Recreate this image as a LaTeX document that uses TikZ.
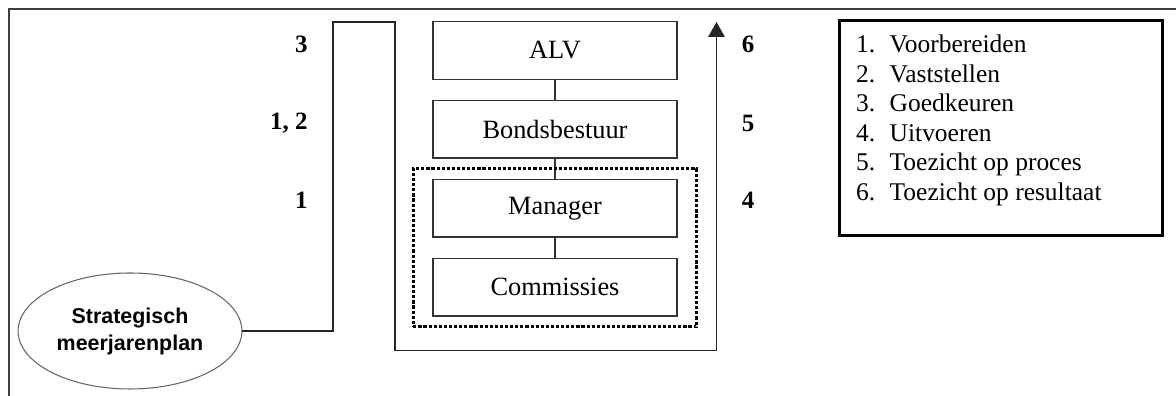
\documentclass[tikz,border=0pt]{standalone}
\usepackage{fontspec}
\setmainfont{Liberation Serif}
\setsansfont{Liberation Sans}
\usepackage{tikz}
\usetikzlibrary{arrows.meta, positioning, shapes.geometric, fit}

\begin{document}
\begin{tikzpicture}[
  box/.style={draw=black!80, thick, minimum width=4.88cm, minimum height=1.15cm, font=\fontsize{15}{18}\selectfont},
  num/.style={inner sep=0pt, font=\fontsize{14.2}{17}\selectfont\bfseries},
  plan/.style={ellipse, draw=black!60, semithick, minimum width=4.04cm, minimum height=2.32cm, align=center, font=\sffamily\bfseries\fontsize{12.2}{15.4}\selectfont},
  link/.style={thick, black!80},
  arrow/.style={-{Triangle[width=0.33cm, length=0.3cm]}, thick, black!85},
  group/.style={draw, line width=1.8pt, dash pattern=on 1.8pt off 1.1pt, inner xsep=0.38cm, inner ysep=0.2cm},
  legend/.style={draw, line width=1.6pt, minimum width=6.47cm, minimum height=4.3cm},
  legendtext/.style={align=left, inner sep=0pt, font=\fontsize{14.5}{16.8}\selectfont}
]

\useasboundingbox (0,0) rectangle (23.52,7.92);

% Frame
\draw[thick, black!75] (0.18,0) -- (0.18,7.74) -- (23.52,7.74);

% Organisation
\node[box] (alv) at (11.1, 6.91) {ALV};
\node[box, below=0.4cm of alv] (bestuur) {Bondsbestuur};
\node[box, below=0.4cm of bestuur] (manager) {Manager};
\node[box, below=0.4cm of manager] (commissies) {Commissies};

\draw[link] (alv.south) -- (bestuur.north);
\draw[link] (bestuur.south) -- (manager.north);
\draw[link] (manager.south) -- (commissies.north);

% Executive part
\node[group, fit=(manager) (commissies)] (uitvoering) {};

% Plan and its route
\node[plan] (plan) at (2.6, 1.3) {Strategisch\\meerjarenplan};

\coordinate (turn1) at (6.66, 7.48);
\coordinate (turn2) at (7.9, 0.906);
\coordinate (top) at (14.33, 7.48);
\draw[arrow] (plan.east) -| (turn1) -| (turn2) -| (top);

% Step numbers
\node[num, anchor=east] (n3) at (6.16, 7.04) {3};
\node[num, anchor=east] (n12) at (6.16, 5.46) {1, 2};
\node[num, anchor=east] (n1) at (6.16, 3.92) {1};
\node[num] (n6) at (14.96, 7.04) {6};
\node[num] (n5) at (14.96, 5.46) {5};
\node[num] (n4) at (14.96, 3.92) {4};

% Legend
\node[legend] (legend) at (20.02, 5.356) {};
\node[legendtext, below right=0.31cm and 0.36cm of legend.north west] (steps) {%
  \makebox[0.67cm][l]{1.}Voorbereiden\\
  \makebox[0.67cm][l]{2.}Vaststellen\\
  \makebox[0.67cm][l]{3.}Goedkeuren\\
  \makebox[0.67cm][l]{4.}Uitvoeren\\
  \makebox[0.67cm][l]{5.}Toezicht op proces\\
  \makebox[0.67cm][l]{6.}Toezicht op resultaat};

\end{tikzpicture}
\end{document}
